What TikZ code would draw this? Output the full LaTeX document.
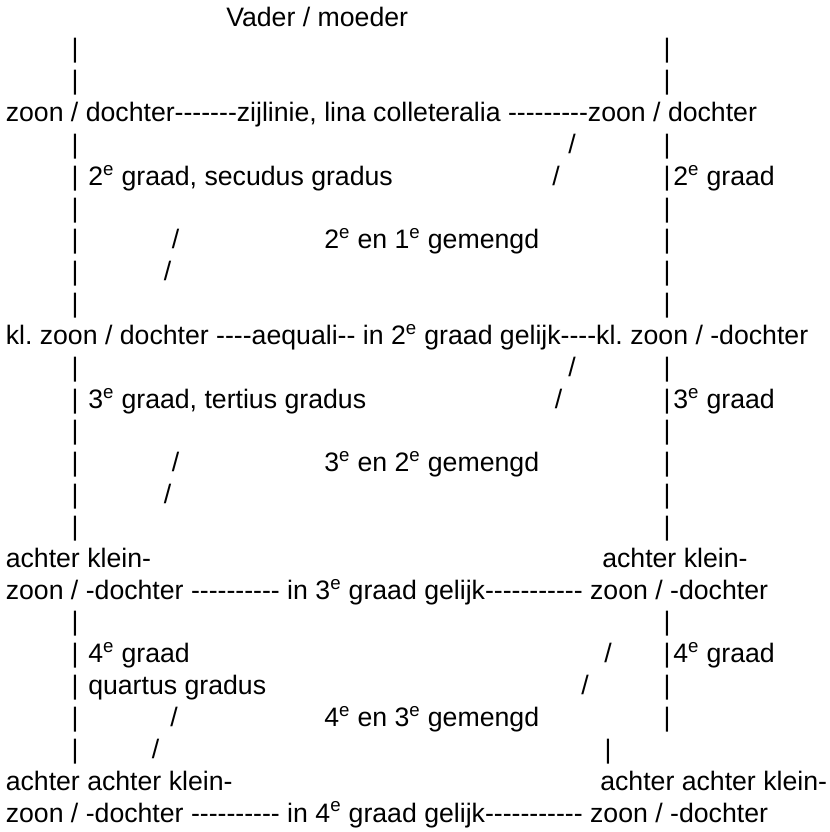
\documentclass[tikz,border=0pt]{standalone}
\usepackage{fontspec}
\setmainfont{Liberation Sans}[Ligatures=TeXOff]
\newcommand{\supe}{\textsuperscript{e}}

\begin{document}
\frenchspacing
\begin{tikzpicture}[x=0.75pt,y=-23.88pt,
  txt/.style={anchor=base west,inner sep=0pt,font=\fontsize{20}{24}\selectfont},
  sym/.style={anchor=base,inner sep=0pt,font=\fontsize{20}{24}\selectfont}]
  \useasboundingbox (0,0.1834) rectangle (830,26.314);
  \node[txt] (ouders) at (226,1) {Vader / moeder};
  % staande lijnen
  \foreach \r in {2,3,5,6,7,8,9,10,12,13,14,15,16,17,20,21,22,23,24}
    \node[sym] (lbar\r) at (75,\r) {|};
  \foreach \r in {2,3,5,6,7,8,9,10,12,13,14,15,16,17,20,21,22,23}
    \node[sym] (rbar\r) at (667,\r) {|};
  \node[sym] (rbar24) at (608,24) {|};
  % 2e graad
  \node[txt] (kind) at (5.5,4) {zoon / dochter-------zijlinie, lina colleteralia ---------zoon / dochter};
  \node[sym] (schuin5) at (572,5) {/};
  \node[txt] (graad2) at (88,6) {2\supe{} graad, secudus gradus};
  \node[sym] (schuin6) at (556,6) {/};
  \node[txt] (graad2r) at (673,6) {2\supe{} graad};
  \node[sym] (schuin8) at (175.5,8) {/};
  \node[txt] (gemengd2) at (324,8) {2\supe{} en 1\supe{} gemengd};
  \node[sym] (schuin9) at (167.5,9) {/};
  % 3e graad
  \node[txt] (kleinkind) at (5.5,11) {kl. zoon / dochter ----aequali-- in 2\supe{} graad gelijk----kl. zoon / -dochter};
  \node[sym] (schuin12) at (572,12) {/};
  \node[txt] (graad3) at (88,13) {3\supe{} graad, tertius gradus};
  \node[sym] (schuin13) at (558.5,13) {/};
  \node[txt] (graad3r) at (673,13) {3\supe{} graad};
  \node[sym] (schuin15) at (175.5,15) {/};
  \node[txt] (gemengd3) at (324,15) {3\supe{} en 2\supe{} gemengd};
  \node[sym] (schuin16) at (167.5,16) {/};
  % 4e graad
  \node[txt] (akl) at (5.5,18) {achter klein-};
  \node[txt] (aklr) at (602,18) {achter klein-};
  \node[txt] (akind) at (5.5,19) {zoon / -dochter ---------- in 3\supe{} graad gelijk----------- zoon / -dochter};
  \node[txt] (graad4) at (88,21) {4\supe{} graad};
  \node[sym] (schuin21) at (608,21) {/};
  \node[txt] (graad4r) at (673,21) {4\supe{} graad};
  \node[txt] (quartus) at (88,22) {quartus gradus};
  \node[sym] (schuin22) at (585,22) {/};
  \node[sym] (schuin23) at (174,23) {/};
  \node[txt] (gemengd4) at (324,23) {4\supe{} en 3\supe{} gemengd};
  \node[sym] (schuin24) at (155.5,24) {/};
  % laatste generatie
  \node[txt] (aakl) at (5.5,25) {achter achter klein-};
  \node[txt] (aaklr) at (600,25) {achter achter klein-};
  \node[txt] (aakind) at (5.5,26) {zoon / -dochter ---------- in 4\supe{} graad gelijk----------- zoon / -dochter};
\end{tikzpicture}
\end{document}
